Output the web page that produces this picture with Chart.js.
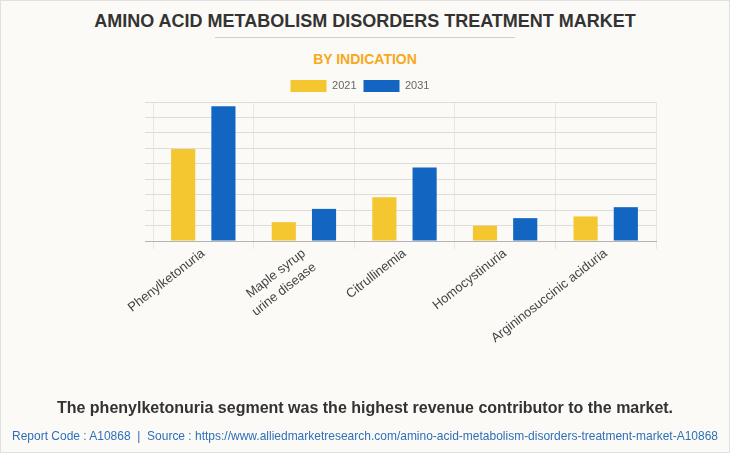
<!DOCTYPE html>
<html><head><meta charset="utf-8">
<script src="https://cdn.jsdelivr.net/npm/chart.js@4"></script>
<style>
html,body{margin:0;padding:0;}
body{width:730px;height:453px;overflow:hidden;background:#fbfaf6;font-family:"Liberation Sans",Arial,sans-serif;position:relative;}
#frame{position:absolute;left:0;top:0;width:728px;height:451px;border:1px solid #e0e0e0;}
.t{position:absolute;left:0;width:730px;text-align:center;white-space:nowrap;}
#title{top:12px;font-size:18px;line-height:18px;font-weight:bold;color:#333;}
#rule{position:absolute;left:215px;width:300px;top:37px;height:1px;background:#cfcfcf;}
#sub{top:52px;font-size:14px;line-height:14px;font-weight:bold;color:#f7a81b;}
#foot{top:400px;font-size:16px;line-height:16px;font-weight:bold;color:#333;}
#src{position:absolute;left:12px;top:429px;font-size:13px;line-height:13px;color:#2f6fba;white-space:nowrap;transform-origin:0 0;}
#wrap{position:absolute;left:0;top:0;width:730px;height:453px;}
</style></head>
<body>
<div id="frame"></div>
<div class="t" id="title">AMINO ACID METABOLISM DISORDERS TREATMENT MARKET</div>
<div id="rule"></div>
<div class="t" id="sub">BY INDICATION</div>
<div id="wrap"><canvas id="c" width="730" height="453"></canvas></div>
<div class="t" id="foot">The phenylketonuria segment was the highest revenue contributor to the market.</div>
<div id="src">Report Code : A10868 &nbsp;|&nbsp; Source : https://www.alliedmarketresearch.com/amino-acid-metabolism-disorders-treatment-market-A10868</div>
<script>
const categories = ['Phenylketonuria', ['Maple syrup', 'urine disease'], 'Citrullinemia', 'Homocystinuria', 'Argininosuccinic aciduria'];
const seriesNames = ['2021', '2031'];
const values2021 = [5.96, 1.22, 2.83, 0.99, 1.59];
const values2031 = [8.72, 2.08, 4.76, 1.48, 2.19];
const yMin = 0;
const yMax = 9;
const yStep = 1;

(function(){
  const s = document.getElementById('src');
  const w = s.getBoundingClientRect().width;
  s.style.transform = 'scaleX(' + (706 / w) + ')';
})();

const ctx = document.getElementById('c').getContext('2d');
new Chart(ctx, {
  type: 'bar',
  data: {
    labels: categories,
    datasets: [
      {label: seriesNames[0], data: values2021, backgroundColor: '#f4c62f', categoryPercentage: 0.8, barPercentage: 0.6},
      {label: seriesNames[1], data: values2031, backgroundColor: '#1266c2', categoryPercentage: 0.8, barPercentage: 0.6}
    ]
  },
  options: {
    responsive: false,
    animation: false,
    layout: {padding: {top: 73, left: 10, right: 20, bottom: 90}},
    plugins: {
      legend: {
        position: 'top',
        labels: {boxWidth: 36, boxHeight: 12, padding: 7, color: '#666',
          font: {size: 11, family: '"Liberation Sans",Arial,sans-serif'}}
      },
      tooltip: {enabled: false},
      title: {display: false}
    },
    scales: {
      x: {
        grid: {color: c => (c.index === categories.length ? 'rgba(0,0,0,0)' : '#e8e6e1'), tickLength: 8, offset: true},
        border: {color: '#b3b3b3'},
        ticks: {minRotation: 38, maxRotation: 38, color: '#444', padding: -4,
          font: {size: 13, lineHeight: 1.35, family: '"Liberation Sans",Arial,sans-serif'}},
        afterFit: s => { s.height = 122; }
      },
      y: {
        min: yMin, max: yMax,
        ticks: {stepSize: yStep, display: false},
        grid: {color: c => (c.tick && c.tick.value === 0 ? '#b3b3b3' : '#dedcd7'), tickLength: 8},
        border: {display: false},
        afterFit: s => { s.width = 143; }
      },
      yR: {
        position: 'right',
        min: yMin, max: yMax,
        ticks: {display: false},
        grid: {display: false, drawOnChartArea: false, drawTicks: false},
        border: {display: false},
        afterFit: s => { s.width = 54; }
      }
    }
  }
});
</script>
</body></html>
